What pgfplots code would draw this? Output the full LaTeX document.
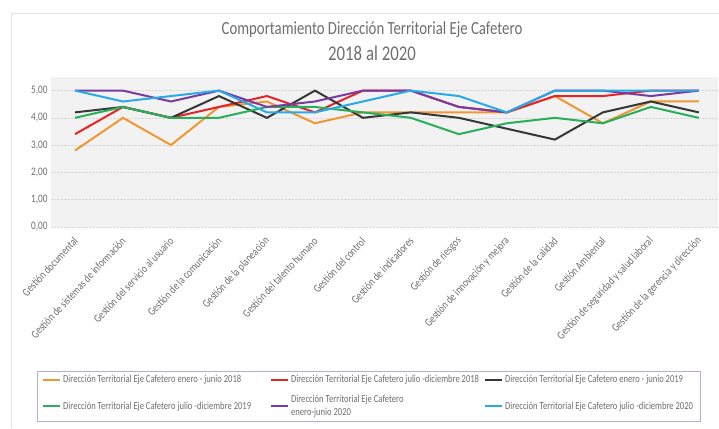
\documentclass[border=0pt]{standalone}
\usepackage{pgfplots}
\pgfplotsset{compat=1.18}
\usepackage{fontspec}
\setmainfont{Carlito}[FakeStretch=0.8]

\definecolor{corange}{RGB}{240,150,50}
\definecolor{cred}{RGB}{230,35,40}
\definecolor{cblack}{RGB}{55,55,55}
\definecolor{cgreen}{RGB}{40,175,90}
\definecolor{cpurple}{RGB}{120,60,160}
\definecolor{ccyan}{RGB}{40,170,230}
\definecolor{txtgray}{RGB}{110,110,110}
\definecolor{legframe}{RGB}{185,170,215}

\begin{document}
\begin{tikzpicture}[x=1pt,y=1pt]
\path[use as bounding box] (0,0) rectangle (719,428);
\coordinate (O) at (51,201.3);
\draw[black!10] (11,0) -- (11,415) -- (719,415);
\node[text=txtgray, font=\fontsize{18.5}{20}\selectfont] at (372,398) {Comportamiento Dirección Territorial Eje Cafetero};
\node[text=txtgray, font=\fontsize{21}{24}\selectfont] at (372,375) {2018 al 2020};
\begin{axis}[
  at={(O)}, anchor=south west,
  scale only axis, width=667pt, height=149.7pt,
  xmin=-0.5, xmax=13.4, ymin=0, ymax=5.5,
  axis line style={draw=none},
  axis background/.style={fill=black!5},
  ytick={0,1,2,3,4,5},
  yticklabel style={text=txtgray, font=\fontsize{11.5}{12}\selectfont},
  /pgf/number format/assume math mode=true,
  /pgf/number format/fixed, /pgf/number format/fixed zerofill,
  /pgf/number format/precision=2, /pgf/number format/use comma,
  xtick={0,...,13},
  xticklabels={Gestión documental, Gestión de sistemas de información, Gestión del servicio al usuario, Gestión de la comunicación, Gestión de la planeación, Gestión del talento humano, Gestión del control, Gestión de indicadores, Gestión de riesgos, Gestión de innovación y mejora, Gestión de la calidad, Gestión Ambiental, Gestión de seguridad y salud laboral, Gestión de la gerencia y dirección},
  xticklabel style={yshift=-10pt, xshift=3pt, rotate=47, anchor=east, text=txtgray, font=\fontsize{11.5}{12}\selectfont},
  major tick length=0pt,
  ymajorgrids, grid style={black!15, densely dotted},
  every axis plot/.append style={line width=2pt, no marks},
  legend image code/.code={\draw[#1] (0pt,0pt) -- (17pt,0pt);},
  legend columns=3,
  legend cell align=left,
  legend style={at={(axis description cs:-0.021,-0.965)}, anchor=north west,
    draw=legframe, fill=white, font=\fontsize{10.7}{13}\selectfont, text=txtgray,
    nodes={align=left}, inner xsep=5pt, inner ysep=2pt, row sep=7pt,
    /tikz/column 2/.style={column sep=17pt},
    /tikz/column 4/.style={column sep=3pt}},
]
\addplot[corange] coordinates {(0,2.8) (1,4.0) (2,3.0) (3,4.4) (4,4.6) (5,3.8) (6,4.2) (7,4.2) (8,4.2) (9,4.2) (10,4.8) (11,3.8) (12,4.6) (13,4.6)};
\addlegendentry{Dirección Territorial Eje Cafetero enero - junio 2018}
\addplot[cred] coordinates {(0,3.4) (1,4.4) (2,4.0) (3,4.4) (4,4.8) (5,4.2) (6,5.0) (7,5.0) (8,4.4) (9,4.2) (10,4.8) (11,4.8) (12,5.0) (13,5.0)};
\addlegendentry{Dirección Territorial Eje Cafetero julio -diciembre 2018}
\addplot[cblack] coordinates {(0,4.2) (1,4.4) (2,4.0) (3,4.8) (4,4.0) (5,5.0) (6,4.0) (7,4.2) (8,4.0) (9,3.6) (10,3.2) (11,4.2) (12,4.6) (13,4.2)};
\addlegendentry{Dirección Territorial Eje Cafetero enero - junio 2019}
\addplot[cgreen] coordinates {(0,4.0) (1,4.4) (2,4.0) (3,4.0) (4,4.4) (5,4.4) (6,4.2) (7,4.0) (8,3.4) (9,3.8) (10,4.0) (11,3.8) (12,4.4) (13,4.0)};
\addlegendentry{Dirección Territorial Eje Cafetero julio -diciembre 2019}
\addplot[cpurple] coordinates {(0,5.0) (1,5.0) (2,4.6) (3,5.0) (4,4.4) (5,4.6) (6,5.0) (7,5.0) (8,4.4) (9,4.2) (10,5.0) (11,5.0) (12,4.8) (13,5.0)};
\addlegendentry{Dirección Territorial Eje Cafetero\\enero-junio 2020}
\addplot[ccyan] coordinates {(0,5.0) (1,4.6) (2,4.8) (3,5.0) (4,4.2) (5,4.2) (6,4.6) (7,5.0) (8,4.8) (9,4.2) (10,5.0) (11,5.0) (12,5.0) (13,5.0)};
\addlegendentry{Dirección Territorial Eje Cafetero julio -diciembre 2020}
\end{axis}
\end{tikzpicture}
\end{document}
